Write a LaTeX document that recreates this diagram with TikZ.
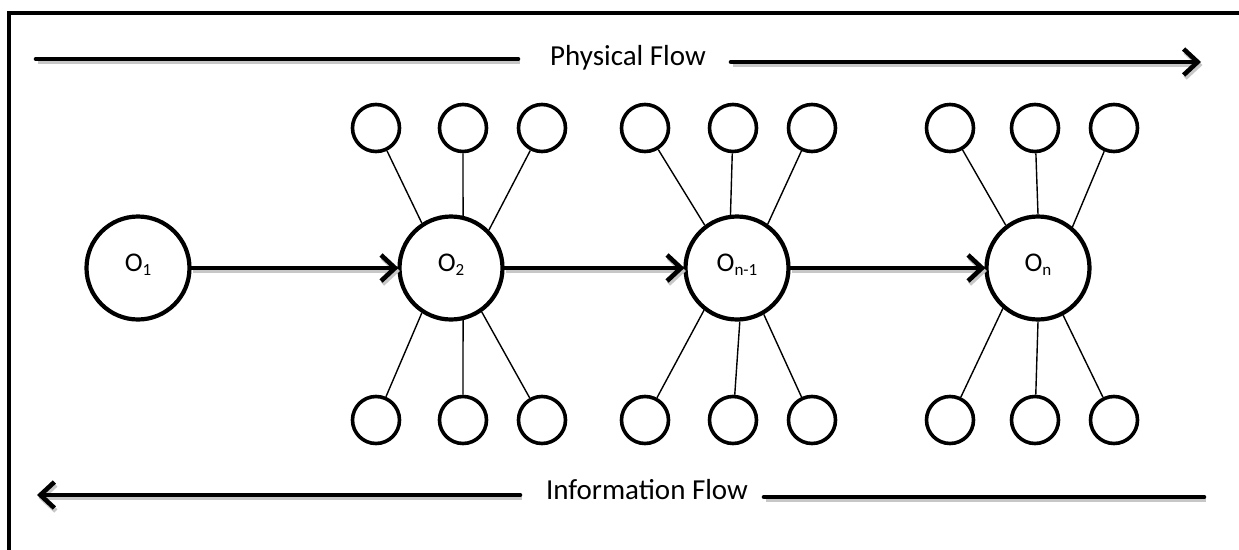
\documentclass[tikz,border=0pt]{standalone}
\usepackage{fontspec}
\setmainfont{Carlito}
\usetikzlibrary{arrows.meta}
\tikzset{
  big/.style={circle, draw, line width=4.2pt, minimum size=103pt, inner sep=0pt, fill=white,
    font=\fontsize{27}{32}\selectfont, text height=19pt, text depth=11.5pt},
  small/.style={circle, draw, line width=3.6pt, minimum size=47pt, inner sep=0pt, fill=white},
  spoke/.style={line width=1.4pt},
  flow/.style={line width=4.6pt, line cap=round,
    preaction={draw=black!22, line width=4.6pt, transform canvas={shift={(1.5,3)}}}},
  tip/.style={-{Straight Barb[length=14pt,width=26pt,line width=4.6pt]}},
  lbl/.style={font=\fontsize{29}{34}\selectfont, inner sep=0pt},
  frame/.style={line width=4pt}
}
\newcommand{\subx}[1]{\raisebox{-0.28ex}{\fontsize{17}{20}\selectfont #1}}
\begin{document}
\begin{tikzpicture}[x=1pt,y=-1pt]
\clip (0,0) rectangle (1239,549);
\fill[white] (0,0) rectangle (1239,549);
\draw[frame] (9,600) -- (9,13) -- (1300,13);

% Physical flow
\node[lbl] (pf) at (628,58) {Physical Flow};
\coordinate (pa) at (36,59);
\coordinate (pb) at (518,59);
\coordinate (pc) at (731,62);
\coordinate (pd) at (1201,62);
\draw[flow] (pa) -- (pb);
\draw[flow,tip] (pc) -- (pd);

% Information flow
\node[lbl] (if) at (647,490) {Information Flow};
\coordinate (ia) at (37,495);
\coordinate (ib) at (520,495);
\coordinate (ic) at (764,497);
\coordinate (id) at (1204,497);
\draw[flow,tip] (ib) -- (ia);
\draw[flow] (ic) -- (id);

% main nodes
\node[big] (o1) at (138,268) {O\subx{1}};
\node[big] (o2) at (451,268) {O\subx{2}};
\node[big] (o3) at (737,268) {O\subx{n-1}};
\node[big] (o4) at (1038,268) {O\subx{n}};

\draw[flow,tip,shorten >=-1pt] (o1) -- (o2);
\draw[flow,tip,shorten >=-1pt] (o2) -- (o3);
\draw[flow,tip,shorten >=-1pt] (o3) -- (o4);

% satellites: group / centre / x positions / big-circle anchor angles
\foreach \g/\c/\xa/\xb/\xc/\aa/\ab/\ac/\ba/\bb/\bc in {
    2/o2/376/463/542/123/77/45/-123/-77/-55,
    3/o3/645/733/812/127/97/55/-128/-87/-60,
    4/o4/950/1035/1114/127/90/50/-131/-90/-62}{
  \node[small] (t\g a) at (\xa,128) {};
  \node[small] (t\g b) at (\xb,128) {};
  \node[small] (t\g c) at (\xc,128) {};
  \node[small] (b\g a) at (\xa,420) {};
  \node[small] (b\g b) at (\xb,420) {};
  \node[small] (b\g c) at (\xc,420) {};
  \draw[spoke] (t\g a) -- (\c.\aa);
  \draw[spoke] (t\g b) -- (\c.\ab);
  \draw[spoke] (t\g c) -- (\c.\ac);
  \draw[spoke] (b\g a) -- (\c.\ba);
  \draw[spoke] (b\g b) -- (\c.\bb);
  \draw[spoke] (b\g c) -- (\c.\bc);
}
\end{tikzpicture}
\end{document}
